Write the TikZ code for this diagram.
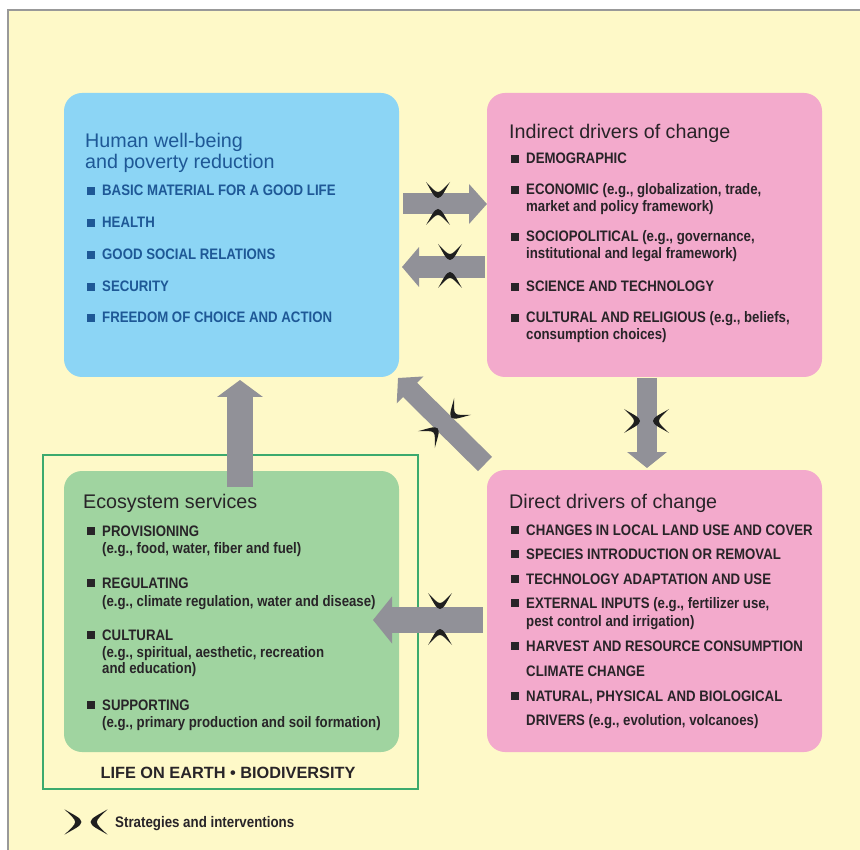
\documentclass[tikz,border=0pt]{standalone}
\usepackage{fontspec}
\setmainfont{Liberation Sans}
\newfontfamily\condf{Liberation Sans}[FakeStretch=0.87]
\usetikzlibrary{arrows.meta}
\definecolor{bgyellow}{RGB}{254,249,200}
\definecolor{boxblue}{RGB}{140,213,245}
\definecolor{boxpink}{RGB}{243,170,204}
\definecolor{boxgreen}{RGB}{160,212,160}
\definecolor{linegreen}{RGB}{60,170,110}
\definecolor{arrowgray}{RGB}{145,145,152}
\definecolor{txtblue}{RGB}{30,88,150}
\definecolor{txtdark}{RGB}{40,36,40}
\newcommand{\bulitem}[4]{%
  \fill (#2-15,#3-1) rectangle (#2-7,#3-9);
  \node[itm] (#1) at (#2,#3) {#4};}
\newcommand{\contline}[4]{%
  \node[itm] (#1) at (#2,#3) {#4};}
\begin{document}
\begin{tikzpicture}[x=1pt,y=-1pt,
  panel/.style={rounded corners=18pt, minimum width=335pt, minimum height=284pt, inner sep=0pt, draw=none},
  fatarrow/.style={draw=arrowgray, line width=#1},
  ttl/.style={anchor=base west, inner sep=0pt, font=\fontsize{19.7}{22}\selectfont},
  itm/.style={anchor=base west, inner sep=0pt, font=\condf\bfseries\fontsize{15.2}{18}\selectfont},
  cres/.pic={\fill[black!88] (-12,-8) .. controls (-7,0) and (-4,8) .. (0,8) .. controls (4,8) and (7,0) .. (12,-8) .. controls (6,-2) and (3,2) .. (0,2) .. controls (-3,2) and (-6,-2) .. cycle;}]
\useasboundingbox (0,0) rectangle (860,850);
\fill[white] (0,0) rectangle (860,850);
\fill[bgyellow] (8,10) rectangle (860,850);
\draw[black!40, line width=1.5pt] (8,850) -- (8,10) -- (860,10);

% outline
\node[draw=linegreen, line width=2pt, minimum width=375pt, minimum height=334pt, inner sep=0pt] (lifebox) at (230.5,622) {};

% panels
\node[panel, fill=boxblue] (hw) at (231.5,235) {};
\node[panel, fill=boxpink] (ind) at (654.5,235) {};
\node[panel, fill=boxgreen, minimum height=281pt] (eco) at (231.5,611.5) {};
\node[panel, fill=boxpink, minimum height=282pt] (dir) at (654.5,611) {};

% arrows
\coordinate (a1s) at (403,204); \coordinate (a1e) at (487,204);
\coordinate (a2s) at (485,267); \coordinate (a2e) at (402,267);
\coordinate (a3s) at (647,378); \coordinate (a3e) at (647,468);
\coordinate (a4s) at (485,464); \coordinate (a4e) at (398,378);
\coordinate (a5s) at (240,487); \coordinate (a5e) at (240,380);
\coordinate (a6s) at (483,620); \coordinate (a6e) at (373,620);
\draw[fatarrow=21pt, -{Triangle[length=18pt,width=39pt]}] (a1s) -- (a1e);
\draw[fatarrow=22pt, -{Triangle[length=17pt,width=39pt]}] (a2s) -- (a2e);
\draw[fatarrow=20pt, -{Triangle[length=16pt,width=39pt]}] (a3s) -- (a3e);
\draw[fatarrow=20pt, -{Triangle[length=17pt,width=37pt]}] (a4s) -- (a4e);
\draw[fatarrow=26pt, -{Triangle[length=17pt,width=45pt]}] (a5s) -- (a5e);
\draw[fatarrow=26pt, -{Triangle[length=19pt,width=46pt]}] (a6s) -- (a6e);

% strategies marks
\pic at (438,190) {cres};
\pic[rotate=180] at (438,217) {cres};
\pic at (450,252) {cres};
\pic[rotate=180] at (450,280) {cres};
\pic[rotate=90] at (632,421) {cres};
\pic[rotate=-90] at (661,421) {cres};
\pic[rotate=-45] at (457,412) {cres};
\pic[rotate=135] at (432,434) {cres};
\pic at (440,601) {cres};
\pic[rotate=180] at (440,637) {cres};

% Human well-being
\begin{scope}[txtblue, every node/.append style={text=txtblue}]
\node[ttl] (hwt1) at (85,148) {Human well-being};
\node[ttl] (hwt2) at (85,169) {and poverty reduction};
\bulitem{hw1}{102}{196}{BASIC MATERIAL FOR A GOOD LIFE}
\bulitem{hw2}{102}{228}{HEALTH}
\bulitem{hw3}{102}{260}{GOOD SOCIAL RELATIONS}
\bulitem{hw4}{102}{292}{SECURITY}
\bulitem{hw5}{102}{323}{FREEDOM OF CHOICE AND ACTION}
\end{scope}

% Indirect drivers
\begin{scope}[txtdark, every node/.append style={text=txtdark}]
\node[ttl] (indt) at (509,139) {Indirect drivers of change};
\bulitem{in1}{526}{164}{DEMOGRAPHIC}
\bulitem{in2}{526}{195}{ECONOMIC (e.g., globalization, trade,}
\contline{in2b}{526}{212}{market and policy framework)}
\bulitem{in3}{526}{242}{SOCIOPOLITICAL (e.g., governance,}
\contline{in3b}{526}{259}{institutional and legal framework)}
\bulitem{in4}{526}{292}{SCIENCE AND TECHNOLOGY}
\bulitem{in5}{526}{323}{CULTURAL AND RELIGIOUS (e.g., beliefs,}
\contline{in5b}{526}{340}{consumption choices)}

% Ecosystem services
\node[ttl] (ecot) at (83,508) {Ecosystem services};
\bulitem{ec1}{102}{536}{PROVISIONING}
\contline{ec1b}{102}{553}{(e.g., food, water, fiber and fuel)}
\bulitem{ec2}{102}{588}{REGULATING}
\contline{ec2b}{102}{606}{(e.g., climate regulation, water and disease)}
\bulitem{ec3}{102}{640}{CULTURAL}
\contline{ec3b}{102}{657}{(e.g., spiritual, aesthetic, recreation}
\contline{ec3c}{102}{673}{and education)}
\bulitem{ec4}{102}{710}{SUPPORTING}
\contline{ec4b}{102}{727}{(e.g., primary production and soil formation)}
\node[anchor=base, inner sep=0pt, font=\bfseries\fontsize{16.3}{19}\selectfont] (life) at (228,778) {LIFE ON EARTH • BIODIVERSITY};

% Direct drivers
\node[ttl] (dirt) at (509,508) {Direct drivers of change};
\bulitem{di1}{526}{535}{CHANGES IN LOCAL LAND USE AND COVER}
\bulitem{di2}{526}{559}{SPECIES INTRODUCTION OR REMOVAL}
\bulitem{di3}{526}{584}{TECHNOLOGY ADAPTATION AND USE}
\bulitem{di4}{526}{608}{EXTERNAL INPUTS (e.g., fertilizer use,}
\contline{di4b}{526}{626}{pest control and irrigation)}
\bulitem{di5}{526}{651}{HARVEST AND RESOURCE CONSUMPTION}
\contline{di6}{526}{676}{CLIMATE CHANGE}
\bulitem{di7}{526}{701}{NATURAL, PHYSICAL AND BIOLOGICAL}
\contline{di7b}{526}{725}{DRIVERS (e.g., evolution, volcanoes)}

% legend
\pic[rotate=90, scale=1.05] at (73,822) {cres};
\pic[rotate=-90, scale=1.05] at (99,822) {cres};
\node[itm, font=\condf\bfseries\fontsize{15.3}{18}\selectfont] (legend) at (115,827) {Strategies and interventions};
\end{scope}
\end{tikzpicture}
\end{document}
